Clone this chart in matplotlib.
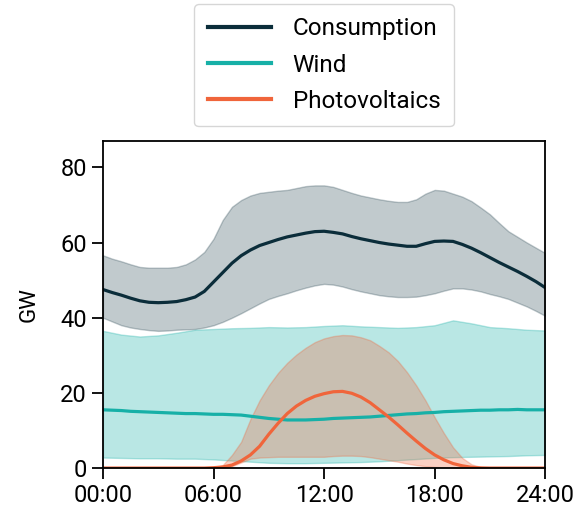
import matplotlib
matplotlib.use("Agg")
import matplotlib.pyplot as plt
import numpy as np

plt.rcParams['font.family'] = ['Roboto', 'DejaVu Sans']

# time of day in hours: half-hour steps for the curves, hourly steps for the wind band
half_hours = np.arange(0, 24.5, 0.5)
hours = np.arange(0, 25)
tick_hours = [0, 6, 12, 18, 24]
tick_labels = ["00:00", "06:00", "12:00", "18:00", "24:00"]

# Consumption (GW): mean and band, half-hourly
cons_mean = [47.5, 46.7, 46, 45.2, 44.5, 44.1, 44, 44.1, 44.3, 44.8, 45.5, 47, 49.5,
             52, 54.5, 56.5, 58, 59.2, 60, 60.8, 61.5, 62, 62.5, 62.9, 63,
             62.7, 62.3, 61.6, 61, 60.5, 60, 59.6, 59.3, 59, 59, 59.7, 60.3,
             60.4, 60.3, 59.5, 58.5, 57.3, 56, 54.7, 53.5, 52.3, 51, 49.6, 48]
cons_hi = [56.6, 55.7, 55, 54.2, 53.5, 53.3, 53.3, 53.3, 53.5, 54.2, 55.5, 57.5, 61,
           66, 69.5, 71.3, 72.5, 73.2, 73.5, 73.8, 74, 74.5, 75, 75.2, 75.2,
           74.8, 74, 73.2, 72.5, 72, 71.5, 71.1, 70.8, 70.8, 71.5, 73, 74,
           73.8, 73, 72.2, 71, 69.3, 67.5, 65.2, 63, 61.5, 60, 58.6, 57.2]
cons_lo = [40, 39, 38, 37.4, 37, 36.7, 36.5, 36.6, 36.8, 36.9, 37, 37.4, 38,
           38.9, 40, 41.2, 42.5, 43.8, 45, 45.8, 46.5, 47.3, 48, 48.6, 49,
           48.8, 48.3, 47.6, 47, 46.5, 46, 45.7, 45.5, 45.5, 45.6, 46, 46.5,
           47.2, 47.8, 47.8, 47.5, 47, 46.3, 45.7, 45, 44, 43, 41.8, 40.5]

# Wind (GW)
wind_mean = [15.5, 15.4, 15.3, 15.1, 15, 14.9, 14.8, 14.7, 14.6, 14.5, 14.5, 14.4, 14.3,
             14.3, 14.2, 14.1, 13.8, 13.5, 13.2, 13, 12.8, 12.8, 12.8, 12.9, 13,
             13.2, 13.3, 13.4, 13.5, 13.6, 13.8, 14, 14.2, 14.4, 14.5, 14.7, 14.8,
             15, 15.1, 15.2, 15.3, 15.4, 15.4, 15.5, 15.5, 15.6, 15.5, 15.5, 15.5]
wind_hi = [36.5, 35.5, 35, 35.3, 36, 36.8, 37, 37.2, 37.3, 37.5, 37.4, 37.5, 37.8,
           38, 37.7, 37.5, 37.3, 37.5, 38, 39.3, 38.5, 37.5, 37.2, 36.8, 36.6]
wind_lo = [2.8, 2.7, 2.6, 2.6, 2.5, 2.5, 2.3, 2, 1.7, 1.4, 1.3, 1.3, 1.4,
           1.5, 1.6, 1.8, 2.1, 2.4, 2.7, 2.9, 3, 3.1, 3.2, 3.4, 3.5]

# Photovoltaics (GW), half-hourly
pv_mean = [0, 0, 0, 0, 0, 0, 0, 0, 0, 0, 0, 0, 0.1,
           0.3, 0.8, 1.9, 3.5, 5.8, 9, 11.9, 14.5, 16.5, 18, 19.1, 19.8,
           20.3, 20.4, 19.9, 18.9, 17.4, 15.5, 13.6, 11.5, 9.3, 7.2, 5.2, 3.5,
           2.2, 1.2, 0.6, 0.2, 0.05, 0, 0, 0, 0, 0, 0, 0]
pv_hi = [0, 0, 0, 0, 0, 0, 0, 0, 0, 0, 0, 0, 0,
         0.8, 3.5, 7, 13, 18, 22, 25.3, 28, 30.2, 32, 33.5, 34.5,
         35.1, 35.4, 35.3, 34.8, 34, 32.5, 30.8, 28.5, 25.5, 22, 18, 13.5,
         9.3, 5.5, 2.7, 1, 0.3, 0, 0, 0, 0, 0, 0, 0]
pv_lo = [0, 0, 0, 0, 0, 0, 0, 0, 0, 0, 0, 0, 0,
         0, 0.5, 1.5, 2.5, 2.8, 2.9, 3, 3, 3, 3, 3, 3,
         3.2, 3.3, 3.3, 3.2, 2.9, 2.5, 2.1, 1.7, 1.2, 0.8, 0.5, 0.3,
         0.2, 0.1, 0, 0, 0, 0, 0, 0, 0, 0, 0, 0]

c_cons = '#0b2d3a'
c_wind = '#17b0a7'
c_pv = '#f0653b'

fig = plt.figure(figsize=(5.85, 5.11), dpi=100)
ax = fig.add_axes([0.176, 0.084, 0.756, 0.640])

ax.fill_between(half_hours, cons_lo, cons_hi, color=c_cons, alpha=0.25, lw=1)
ax.fill_between(hours, wind_lo, wind_hi, color=c_wind, alpha=0.3, lw=1)
ax.fill_between(half_hours, pv_lo, pv_hi, color=c_pv, alpha=0.3, lw=1)

ax.plot(half_hours, cons_mean, color=c_cons, lw=2.3, label='Consumption')
ax.plot(half_hours, wind_mean, color=c_wind, lw=2.3, label='Wind')
ax.plot(half_hours, pv_mean, color=c_pv, lw=2.3, label='Photovoltaics')

ax.set_xlim(0, 24)
ax.set_ylim(0, 87)
ax.set_xticks(tick_hours)
ax.set_xticklabels(tick_labels)
ax.set_yticks([0, 20, 40, 60, 80])
ax.tick_params(labelsize=17, length=8, width=1.3)
ax.set_ylabel('GW', fontsize=16, labelpad=15)
for s in ax.spines.values():
    s.set_linewidth(1.3)

leg = ax.legend(loc='lower center', bbox_to_anchor=(0.5, 1.03), fontsize=17.5,
                handlelength=2.6, frameon=True, borderpad=0.55, labelspacing=0.55,
                handletextpad=0.9, borderaxespad=0.2)
for l in leg.get_lines():
    l.set_linewidth(3)

fig.savefig('out.png', dpi=100)
